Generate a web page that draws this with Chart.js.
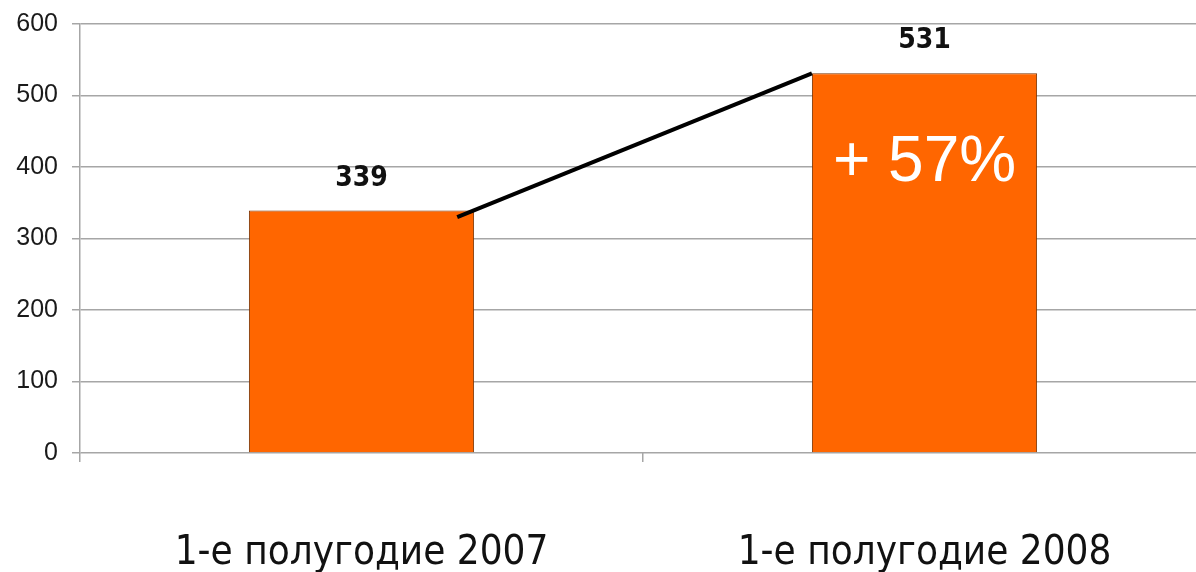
<!DOCTYPE html>
<html>
<head>
<meta charset="utf-8">
<script src="https://cdn.jsdelivr.net/npm/chart.js@4"></script>
<style>
	body { margin: 0; background: #fff; overflow: hidden; }
	#wrap { position: relative; width: 1206px; height: 572px; }
</style>
</head>
<body>
<div id="wrap"><canvas id="chart"></canvas></div>
<script>
// Data
const periods = ['1-е полугодие 2007', '1-е полугодие 2008'];
const counts = [339, 531];
const yTicks = [0, 100, 200, 300, 400, 500, 600];
// connector between the two bar tops (x in category units)
const trendX = [0.17, 0.8];
const trendY = [330, 531];
const growthText = '+ 57%';
const growthAt = 405;

const ORANGE = '#ff6600';
const GRID = '#a6a6a6';

// connector line, value labels above bars, growth figure inside the second bar
const barLabels = {
	id: 'barLabels',
	afterDatasetsDraw(chart) {
		const ctx = chart.ctx;
		const xs = chart.scales.x;
		const ys = chart.scales.y;
		const meta = chart.getDatasetMeta(0);
		const catW = xs.getPixelForValue(1) - xs.getPixelForValue(0);
		const x0 = xs.getPixelForValue(0);
		ctx.save();
		ctx.strokeStyle = '#000';
		ctx.lineWidth = 4;
		ctx.beginPath();
		trendX.forEach((v, i) => {
			const px = x0 + v * catW;
			const py = ys.getPixelForValue(trendY[i]);
			if (i === 0) ctx.moveTo(px, py);
			else ctx.lineTo(px, py);
		});
		ctx.stroke();

		ctx.textAlign = 'center';
		ctx.textBaseline = 'alphabetic';
		ctx.fillStyle = '#111';
		ctx.font = 'bold 28px "DejaVu Sans Condensed", "DejaVu Sans", sans-serif';
		meta.data.forEach((bar, i) => {
			ctx.fillText(String(counts[i]), bar.x, bar.y - 25);
		});
		ctx.fillStyle = '#fff';
		ctx.font = '64px "Liberation Sans", Arial, sans-serif';
		ctx.textBaseline = 'middle';
		ctx.fillText(growthText, meta.data[1].x, ys.getPixelForValue(growthAt));
		ctx.restore();
	},
};

new Chart(document.getElementById('chart'), {
	type: 'bar',
	data: {
		labels: periods,
		datasets: [
			{
				data: counts,
				backgroundColor: ORANGE,
				borderColor: '#7a3300',
				borderWidth: 1,
				barPercentage: 0.8,
				categoryPercentage: 0.5,
			},
		],
	},
	options: {
		responsive: true,
		maintainAspectRatio: false,
		animation: false,
		layout: { padding: { top: 24, right: 0, left: 0, bottom: 0 } },
		plugins: { legend: { display: false }, tooltip: { enabled: false } },
		scales: {
			x: {
				grid: { drawOnChartArea: false, drawTicks: true, tickLength: 9, color: GRID, lineWidth: 1.5 },
				border: { display: false },
				ticks: {
					color: '#111',
					font: { family: '"DejaVu Sans Condensed", "DejaVu Sans", sans-serif', size: 40 },
					padding: 68,
					maxRotation: 0,
				},
				afterFit: (scale) => { scale.height = 119; },
			},
			y: {
				min: 0,
				max: 600,
				afterBuildTicks: (scale) => { scale.ticks = yTicks.map((v) => ({ value: v })); },
				grid: { color: GRID, lineWidth: 1.5, tickLength: 8 },
				border: { color: GRID, width: 1.5 },
				ticks: {
					color: '#1a1a1a',
					font: { family: '"Liberation Sans", Arial, sans-serif', size: 25 },
					padding: 14,
				},
				afterFit: (scale) => {
					scale.width = 80;
					scale.paddingTop = 0;
					scale.paddingBottom = 0;
				},
			},
		},
	},
	plugins: [barLabels],
});
</script>
</body>
</html>
